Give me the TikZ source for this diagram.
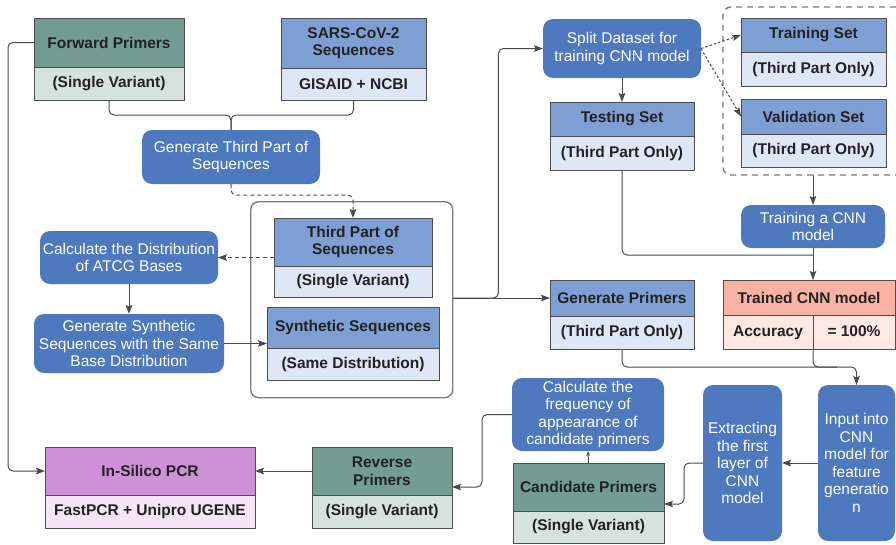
\documentclass[tikz,border=0pt]{standalone}
\usepackage{fontspec}
\setmainfont{Liberation Sans}
\usetikzlibrary{arrows.meta}

\definecolor{tealhead}{HTML}{739C93}
\definecolor{tealpale}{HTML}{D5E2DE}
\definecolor{bluehead}{HTML}{7E9FD3}
\definecolor{bluepale}{HTML}{DEE7F5}
\definecolor{procblue}{HTML}{4E79BF}
\definecolor{salmonhead}{HTML}{F8B3A5}
\definecolor{salmonpale}{HTML}{FDE8E3}
\definecolor{purphead}{HTML}{CE90D7}
\definecolor{purppale}{HTML}{F5E5F7}
\definecolor{boxline}{HTML}{4D4D4D}
\definecolor{linegray}{HTML}{4A4A4A}
\definecolor{grpgray}{HTML}{7A7A7A}
\definecolor{txtdark}{HTML}{222222}

\tikzset{
  hdr/.style={draw=boxline, line width=0.9pt, inner sep=0pt, outer sep=0pt,
    anchor=north west, align=center, text=txtdark,
    font=\fontsize{15.5}{17.5}\selectfont\bfseries},
  sub/.style={hdr, anchor=north},
  proc/.style={fill=procblue, rounded corners=10pt, inner sep=0pt, outer sep=0pt,
    anchor=north west, align=center, text=white,
    font=\fontsize{15.5}{17.5}\selectfont},
  link/.style={draw=linegray, line width=1pt, rounded corners=5pt},
  arr/.style={link, -{Stealth[length=9pt,width=6.5pt,inset=1.5pt]}},
  dasharr/.style={arr, dash pattern=on 4pt off 3pt},
  dotarr/.style={arr, dash pattern=on 2.5pt off 2pt},
}

\begin{document}
\begin{tikzpicture}
        [x=1pt,y=-1pt]
        \useasboundingbox (0,0) rectangle (896,544);

        % left column
        \node[hdr, fill=tealhead, minimum width=150, minimum height=49] (fwd) at (34,18) {Forward Primers};
        \node[sub, fill=tealpale, minimum width=150, minimum height=33] (fwdsub) at (fwd.south) {(Single Variant)};
        \node[hdr, fill=bluehead, minimum width=145, minimum height=50] (sars) at (281,18) {SARS-CoV-2\\Sequences};
        \node[sub, fill=bluepale, minimum width=145, minimum height=32] (sarssub) at (sars.south) {GISAID + NCBI};
        \node[proc, minimum width=178, minimum height=54] (gen3) at (142,130) {Generate Third Part of\\Sequences};

        \node[draw=grpgray, line width=1.4pt, rounded corners=8pt, inner sep=0pt, anchor=north west,
              minimum width=202, minimum height=196] (grp) at (250,201) {};
        \node[hdr, fill=bluehead, minimum width=158, minimum height=48] (third) at (274,218) {Third Part of\\Sequences};
        \node[sub, fill=bluepale, minimum width=158, minimum height=31] (thirdsub) at (third.south) {(Single Variant)};
        \node[hdr, fill=bluehead, minimum width=172, minimum height=41] (synth) at (267,307) {Synthetic Sequences};
        \node[sub, fill=bluepale, minimum width=172, minimum height=32] (synthsub) at (synth.south) {(Same Distribution)};

        \node[proc, minimum width=178, minimum height=53] (calcd) at (40,231) {Calculate the Distribution\\of ATCG Bases};
        \node[proc, minimum width=190, minimum height=59] (gensyn) at (34,314) {Generate Synthetic\\Sequences with the Same\\Base Distribution};

        \node[hdr, fill=purphead, minimum width=210, minimum height=48] (pcr) at (45,447) {In-Silico PCR};
        \node[sub, fill=purppale, minimum width=210, minimum height=33] (pcrsub) at (pcr.south) {FastPCR + Unipro UGENE};
        \node[hdr, fill=tealhead, minimum width=140, minimum height=48] (rev) at (312,447) {Reverse\\Primers};
        \node[sub, fill=tealpale, minimum width=140, minimum height=33] (revsub) at (rev.south) {(Single Variant)};

        % right column
        \node[proc, minimum width=158, minimum height=59] (split) at (543,19) {Split Dataset for\\training CNN model};
        \node[hdr, fill=bluehead, minimum width=144, minimum height=34] (test) at (550,102) {Testing Set};
        \node[sub, fill=bluepale, minimum width=144, minimum height=34] (testsub) at (test.south) {(Third Part Only)};

        \draw[grpgray, line width=1.4pt, dash pattern=on 6pt off 5pt, rounded corners=8pt]
          (896,7) -| (723,175) -- (896,175);
        \coordinate (setbot) at (813,175);
        \node[hdr, fill=bluehead, minimum width=145, minimum height=34] (train) at (741,18) {Training Set};
        \node[sub, fill=bluepale, minimum width=145, minimum height=34] (trainsub) at (train.south) {(Third Part Only)};
        \node[hdr, fill=bluehead, minimum width=145, minimum height=35] (valid) at (741,99) {Validation Set};
        \node[sub, fill=bluepale, minimum width=145, minimum height=33] (validsub) at (valid.south) {(Third Part Only)};

        \node[proc, minimum width=144, minimum height=43] (trcnn) at (741,205) {Training a CNN\\model};
        \node[hdr, fill=salmonhead, minimum width=172, minimum height=35] (trained) at (723,280) {Trained CNN model};
        \node[hdr, fill=salmonpale, minimum width=90, minimum height=34, text height=11pt, text depth=3pt] (acc) at (723,315) {Accuracy};
        \node[hdr, fill=salmonpale, minimum width=82, minimum height=34, text height=11pt, text depth=3pt] (pct) at (813,315) {= 100\%};
        \node[hdr, fill=bluehead, minimum width=144, minimum height=36] (gp) at (550,280) {Generate Primers};
        \node[sub, fill=bluepale, minimum width=144, minimum height=33] (gpsub) at (gp.south) {(Third Part Only)};

        \node[proc, minimum width=77, minimum height=156] (inp) at (818,385) {Input into\\CNN\\model for\\feature\\generatio\\n};
        \node[proc, minimum width=79, minimum height=156] (ext) at (703,385) {Extracting\\the first\\layer of\\CNN\\model};
        \node[proc, minimum width=152, minimum height=73] (freq) at (512,378) {Calculate the\\frequency of\\appearance of\\candidate primers};
        \node[hdr, fill=tealhead, minimum width=151, minimum height=48] (cand) at (513,463) {Candidate Primers};
        \node[sub, fill=tealpale, minimum width=151, minimum height=32] (candsub) at (cand.south) {(Single Variant)};

        % connectors
        \draw[link] (fwdsub.south) -- ++(0,15) -| (gen3.north);
        \draw[link] (sarssub.south) -- ++(0,15) -| (gen3.north);
        \draw[dasharr] (gen3.south) -- ++(0,11) -| (third.north);
        \draw[dasharr] (calcd.east -| third.west) -- (calcd.east);
        \draw[arr] (calcd.south) -- (gensyn.north);
        \draw[arr] (gensyn.east) -- (gensyn.east -| synth.west);

        \draw[arr] (grp.east |- gp.west) -- (gp.west);
        \draw[arr] (grp.east |- gp.west) -- ++(45,0) |- (split.west);
        \draw[arr] (split.south) -- (test.north);
        \draw[dotarr] (split.east) -- (train.west);
        \draw[dotarr] (split.east) -- (valid.west);
        \draw[arr] (setbot) -- (trcnn.north);

        \coordinate (tjoin) at (813,255);
        \draw[link] (testsub.south) |- (tjoin);
        \draw[arr] (trcnn.south) -- (trcnn.south |- trained.north);
        \draw[arr] (gpsub.south) -- ++(0,18) -| (inp.north);
        \draw[link] (acc.south east) -- ++(0,18) -- ++(24,0);

        \draw[arr] (inp.west) -- (ext.east);
        \draw[arr] (ext.west) -- ++(-19,0) |- ([yshift=7pt]cand.south east);
        \draw[link, -{Stealth[length=5pt,width=4pt]}] (cand.north) -- (freq.south);
        \draw[arr] (freq.west) -- ++(-30,0) |- ([yshift=8pt]rev.south east);
        \draw[arr] (rev.west) -- (pcr.east);
        \draw[arr] (fwd.west) -- ++(-26,0) |- (pcr.west);
      \end{tikzpicture}
\end{document}
